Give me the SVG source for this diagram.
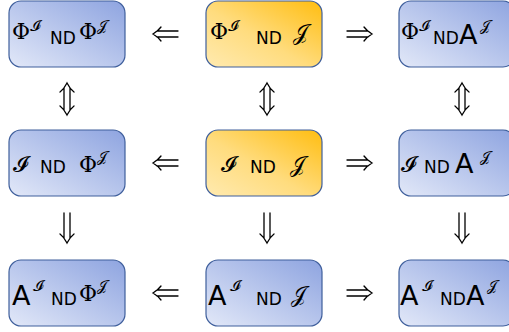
<svg xmlns="http://www.w3.org/2000/svg" width="509" height="332" viewBox="0 0 509 332">
<defs>
<linearGradient id="gb" x1="0" y1="1" x2="1" y2="0">
<stop offset="0" stop-color="#e2e8f8"/><stop offset="1" stop-color="#8ea4e0"/>
</linearGradient>
<linearGradient id="go" x1="0" y1="1" x2="1" y2="0">
<stop offset="0" stop-color="#ffeab0"/><stop offset="0.45" stop-color="#ffdc7e"/><stop offset="1" stop-color="#ffbd10"/>
</linearGradient>
</defs>
<style>
.b{fill:url(#gb);stroke:#3f5f9c;stroke-width:1.2}
.o{fill:url(#go);stroke:#3f5f9c;stroke-width:1.2}
text{fill:#000}
.phi{font-family:"DejaVu Serif","Liberation Serif",serif;font-size:22px}
.cal{font-family:"DejaVu Serif","DejaVu Sans",serif}
.nd{font-family:"DejaVu Sans","Liberation Sans",sans-serif;font-size:17px}
.a{font-family:"DejaVu Sans","Liberation Sans",sans-serif;font-size:27px}
.sup{font-size:15px}
.big{font-size:22px}
.c path{fill:none;stroke:#000;stroke-width:1.3;stroke-linecap:round}
</style>
<g id="n11"><rect class="b" x="9" y="1" width="116" height="66" rx="12"/>
<text><tspan class="phi" x="12" y="39">Φ</tspan><tspan class="cal sup" x="30" y="31">𝓘</tspan><tspan class="nd" x="50" y="44">ND</tspan><tspan class="phi" x="79" y="39">Φ</tspan><tspan class="cal sup" x="97" y="31">𝒥</tspan></text></g>
<g id="n12"><rect class="o" x="206" y="1" width="116" height="66" rx="12"/>
<text><tspan class="phi" x="210" y="39">Φ</tspan><tspan class="cal sup" x="228" y="31">𝓘</tspan><tspan class="nd" x="256" y="44">ND</tspan><tspan class="cal big" x="293" y="40">𝒥</tspan></text></g>
<g id="n13"><rect class="b" x="399" y="1" width="116" height="66" rx="12"/>
<text><tspan class="phi" x="401" y="39">Φ</tspan><tspan class="cal sup" x="419" y="31">𝓘</tspan><tspan class="nd" x="433" y="44">ND</tspan><tspan class="a" x="459" y="44">A</tspan><tspan class="cal sup" x="480" y="31">𝒥</tspan></text></g>
<g id="n21"><rect class="b" x="9" y="130" width="116" height="66" rx="12"/>
<text><tspan class="cal big" x="13" y="172">𝓘</tspan><tspan class="nd" x="40" y="173">ND</tspan><tspan class="phi" x="79" y="172">Φ</tspan><tspan class="cal sup" x="97" y="162">𝒥</tspan></text></g>
<g id="n22"><rect class="o" x="206" y="130" width="116" height="66" rx="12"/>
<text><tspan class="cal big" x="221" y="172">𝓘</tspan><tspan class="nd" x="250" y="173">ND</tspan><tspan class="cal big" x="290" y="172">𝒥</tspan></text></g>
<g id="n23"><rect class="b" x="399" y="130" width="116" height="66" rx="12"/>
<text><tspan class="cal big" x="401" y="172">𝓘</tspan><tspan class="nd" x="424" y="173">ND</tspan><tspan class="a" x="455" y="173">A</tspan><tspan class="cal sup" x="480" y="162">𝒥</tspan></text></g>
<g id="n31"><rect class="b" x="9" y="260" width="116" height="66" rx="12"/>
<text><tspan class="a" x="12" y="305">A</tspan><tspan class="cal sup" x="33" y="291">𝓘</tspan><tspan class="nd" x="51" y="305">ND</tspan><tspan class="phi" x="79" y="301">Φ</tspan><tspan class="cal sup" x="97" y="291">𝒥</tspan></text></g>
<g id="n32"><rect class="b" x="206" y="260" width="116" height="66" rx="12"/>
<text><tspan class="a" x="208" y="305">A</tspan><tspan class="cal sup" x="230" y="291">𝓘</tspan><tspan class="nd" x="256" y="305">ND</tspan><tspan class="cal big" x="291" y="302">𝒥</tspan></text></g>
<g id="n33"><rect class="b" x="399" y="260" width="116" height="66" rx="12"/>
<text><tspan class="a" x="400" y="305">A</tspan><tspan class="cal sup" x="422" y="291">𝓘</tspan><tspan class="nd" x="440" y="305">ND</tspan><tspan class="a" x="466" y="305">A</tspan><tspan class="cal sup" x="487" y="291">𝒥</tspan></text></g>
<g id="connectors" class="c">
<path d="M178,31H157M178,37H157M161,27Q158,31 153,34Q158,37 161,41"/>
<path d="M178,160H157M178,166H157M161,156Q158,160 153,163Q158,166 161,170"/>
<path d="M178,290H157M178,296H157M161,286Q158,290 153,293Q158,296 161,300"/>
<path d="M347,31H368M347,37H368M364,27Q367,31 372,34Q367,37 364,41"/>
<path d="M347,160H368M347,166H368M364,156Q367,160 372,163Q367,166 364,170"/>
<path d="M347,290H368M347,296H368M364,286Q367,290 372,293Q367,296 364,300"/>
<path d="M64,88V110M70,88V110M60,92Q64,89 67,83Q70,89 74,92M60,106Q64,109 67,115Q70,109 74,106"/>
<path d="M264,88V110M270,88V110M260,92Q264,89 267,83Q270,89 274,92M260,106Q264,109 267,115Q270,109 274,106"/>
<path d="M459,88V110M465,88V110M455,92Q459,89 462,83Q465,89 469,92M455,106Q459,109 462,115Q465,109 469,106"/>
<path d="M64,213V238M70,213V238M60,234Q64,237 67,243Q70,237 74,234"/>
<path d="M264,213V238M270,213V238M260,234Q264,237 267,243Q270,237 274,234"/>
<path d="M459,213V238M465,213V238M455,234Q459,237 462,243Q465,237 469,234"/>
</g>
</svg>
